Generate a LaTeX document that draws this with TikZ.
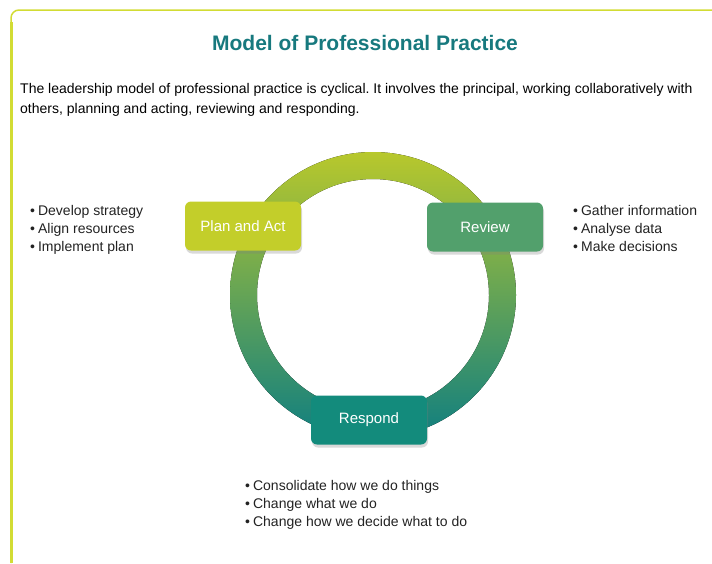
\documentclass[tikz,border=0pt]{standalone}
\usepackage{fontspec}
\setmainfont{Liberation Sans}
\usetikzlibrary{shadows}
\definecolor{lime}{HTML}{C3CE2A}
\definecolor{frameline}{HTML}{D2DC34}
\definecolor{reviewgreen}{HTML}{52A06C}
\definecolor{respondteal}{HTML}{138B7C}
\definecolor{titleteal}{HTML}{17797E}
\definecolor{ringtop}{HTML}{B8C82C}
\definecolor{ringbot}{HTML}{107F80}
\definecolor{txt}{HTML}{222222}
\frenchspacing
\begin{document}
\begin{tikzpicture}[x=1pt,y=-1pt,
	stage/.style={rounded corners=6pt,minimum width=116pt,minimum height=49pt,
		text=white,font=\fontsize{15}{18}\selectfont,
		drop shadow={shadow xshift=1pt,shadow yshift=-3pt,opacity=0.3}},
	item/.style={anchor=base west,text=txt,font=\fontsize{14}{18}\selectfont,inner sep=0pt}]
			\useasboundingbox (0,0) rectangle (712,563);
			% frame
			\draw[frameline,line width=1.5pt,rounded corners=8pt] (11,563)--(11,10)--(712,10);
			\draw[frameline,line width=3pt] (11,22)--(11,563);
			% heading
			\node[text=titleteal,font=\bfseries\fontsize{21}{24}\selectfont] (title) at (365,43) {Model of Professional Practice};
			\node[item,text=black] (intro1) at (20,93) {The leadership model of professional practice is cyclical. It involves the principal, working collaboratively with};
			\node[item,text=black] (intro2) at (20,113) {others, planning and acting, reviewing and responding.};
			% ring
			\path (373,295) coordinate (O);
			\fill[top color=ringtop,bottom color=ringbot,even odd rule] (O) circle (143pt) (O) circle (116pt);
			% stages
			\node[stage,fill=lime] (plan) at (243,226) {Plan and Act};
			\node[stage,fill=reviewgreen] (review) at (485,227) {Review};
			\node[stage,fill=respondteal] (respond) at (369,420) {Respond};
			% lists
			\foreach \t/\y in {Develop strategy/215,Align resources/233,Implement plan/251}{
				\node[item] at (30,\y) {\textbullet\hspace{3pt}\t};
			}
			\foreach \t/\y in {Gather information/215,Analyse data/233,Make decisions/251}{
				\node[item] at (573,\y) {\textbullet\hspace{3pt}\t};
			}
			\foreach \t/\y in {Consolidate how we do things/490,Change what we do/508,Change how we decide what to do/526}{
				\node[item] at (245,\y) {\textbullet\hspace{3pt}\t};
			}
		\end{tikzpicture}
\end{document}
